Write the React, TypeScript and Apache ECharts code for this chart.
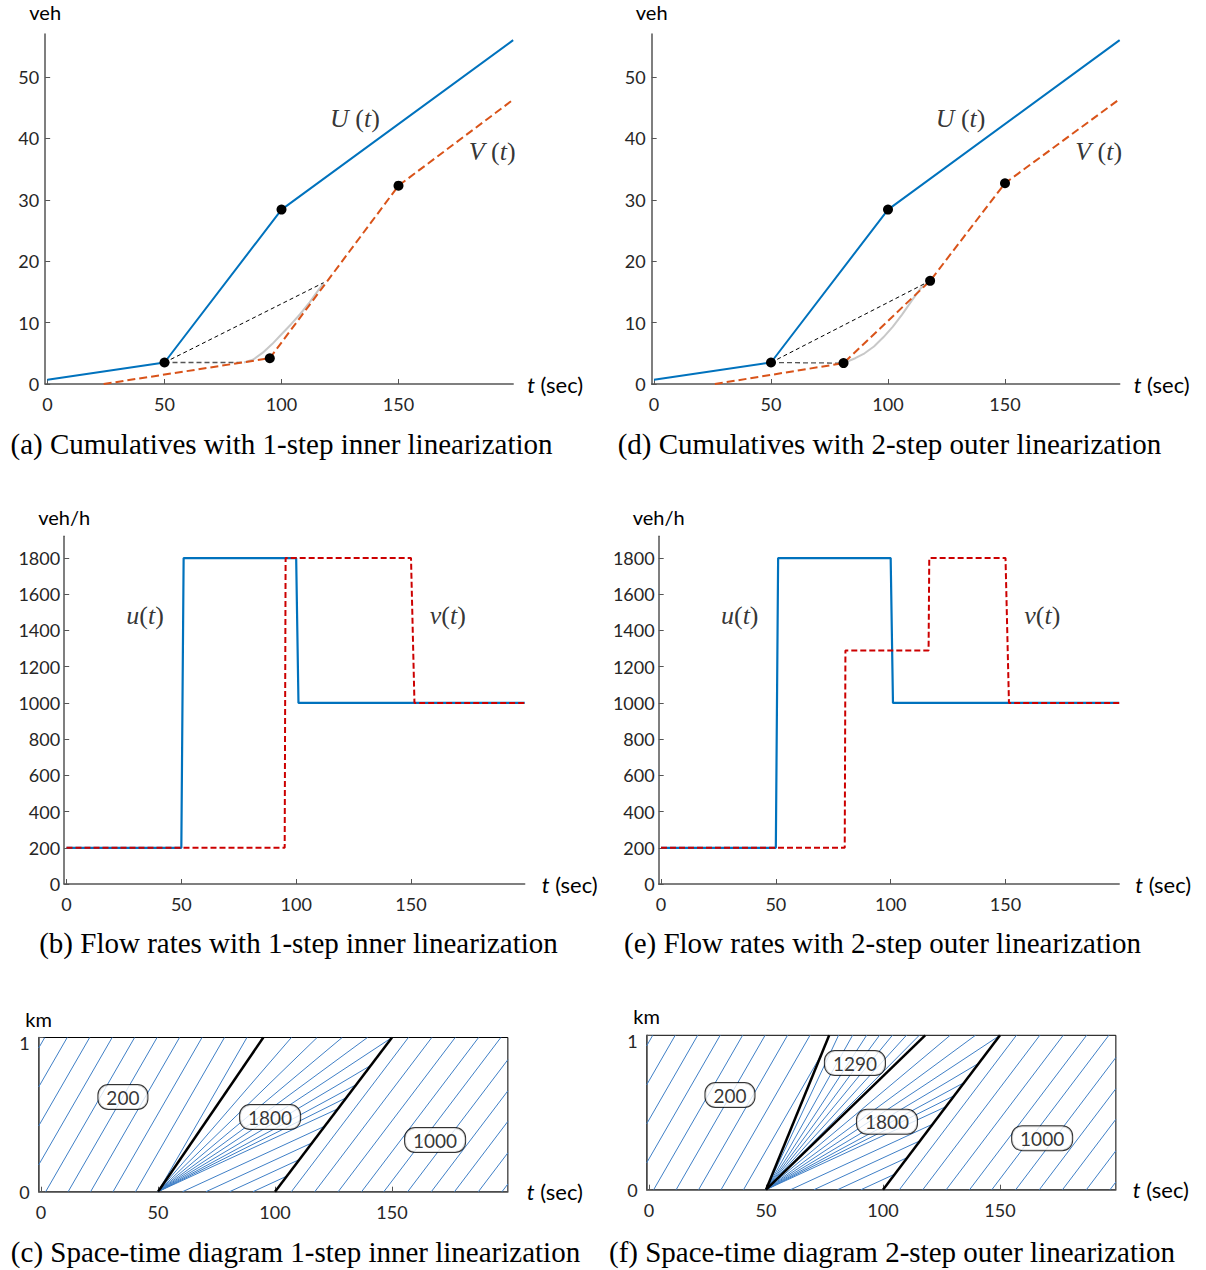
import React, { useEffect, useRef } from "react";
import * as echarts from "echarts";

// ---------------- data ----------------
// cumulative curves (veh) for panels (a) and (d)
const U_T = [0, 50, 100, 199];
const U_N = [0.7, 3.5, 28.4, 56.0];
const V_INNER_T = [24, 95, 150, 199];
const V_INNER_N = [0, 4.2, 32.3, 46.3];
const V_OUTER_T = [26, 81, 118, 150, 199];
const V_OUTER_N = [0, 3.4, 16.8, 32.7, 46.4];
const TRUE_V_A_T = [84, 88, 92, 96, 100, 104, 108, 112, 116, 118];
const TRUE_V_A_N = [3.5, 4.0, 5.1, 6.5, 8.1, 9.7, 11.4, 13.3, 15.4, 16.4];
const TRUE_V_D_T = [81, 86, 90, 94, 98, 102, 106, 110, 114, 118];
const TRUE_V_D_N = [3.4, 4.2, 5.0, 6.1, 7.6, 9.3, 11.3, 13.5, 15.6, 16.8];
const KNOTS_A_T = [50, 95, 100, 150];
const KNOTS_A_N = [3.5, 4.2, 28.4, 32.3];
const KNOTS_D_T = [50, 81, 100, 118, 150];
const KNOTS_D_N = [3.5, 3.4, 28.4, 16.8, 32.7];
const CHORD_H_A_T = [50, 84];
const CHORD_H_A_N = [3.5, 3.5];
const CHORD_S_A_T = [50, 118];
const CHORD_S_A_N = [3.5, 16.5];
const CHORD_H_D_T = [50, 81];
const CHORD_H_D_N = [3.5, 3.4];
const CHORD_S_D_T = [50, 118];
const CHORD_S_D_N = [3.5, 16.8];

// flow rates (veh/h) for panels (b) and (e)
const U_FLOW_T = [0, 50, 51, 100, 101, 199.5];
const U_FLOW_Q = [200, 200, 1800, 1800, 1000, 1000];
const V_FLOW_INNER_T = [0, 95, 95.4, 150, 151.5, 199.5];
const V_FLOW_INNER_Q = [200, 200, 1800, 1800, 1000, 1000];
const V_FLOW_OUTER_T = [0, 80, 80.3, 116.5, 116.8, 150, 151.5, 199.5];
const V_FLOW_OUTER_Q = [200, 200, 1290, 1290, 1800, 1800, 1000, 1000];

// space-time diagrams (c) and (f): start times at x=0 (s) and travel times (s per km)
const C200_T0 = [50, 40.4, 30.8, 21.2, 11.6, 2.0, -7.6, -17.2, -26.8, -36.4];
const F200_T0 = [40.4, 30.8, 21.2, 11.6, 2.0, -7.6, -17.2, -26.8, -36.4];
const TT_200 = 38;
const FAN_ORIGIN = 50;
const FAN_C_TT = [57, 68, 78.7, 89.5, 100, 111, 122, 132, 143];
const FAN_F_1290_TT = [31, 37, 43, 48.5, 54, 60, 65.5];
const FAN_F_1800_TT = [78.7, 89.5, 100, 111, 122, 132, 143];
const T0_1800 = [60.5, 70.5, 80.6, 90.6];
const TT_1800 = 143;
const T0_1000 = [107, 117, 127, 137, 146.5, 156.7, 166.8, 176.7, 186.9, 197];
const TT_1000 = 50;
const WAVES_C_T0 = [50, 100];
const WAVES_C_TT = [45, 50];
const WAVES_F_T0 = [50, 50, 100];
const WAVES_F_TT = [27, 68, 50];

// tick values
const T_TICKS = [0, 50, 100, 150];
const N_TICKS = [0, 10, 20, 30, 40, 50];
const Q_TICKS = [0, 200, 400, 600, 800, 1000, 1200, 1400, 1600, 1800];
const KM_TICKS = [0, 1];

// ---------------- helpers ----------------
const zip = (xs: number[], ys: number[]) => xs.map((x, i) => [x, ys[i]]);
const XMIN = -1;
const XMAX_ST = 199.5;

type Wave = { t0: number; tt: number };
function seg(t0: number, tt: number, stops: Wave[]) {
  let kEnd = 1;
  for (const w of stops) {
    if (tt !== w.tt) {
      const k = (w.t0 - t0) / (tt - w.tt);
      if (k > 1e-6 && k < kEnd) kEnd = k;
    }
  }
  let kStart = 0;
  if (t0 < XMIN) kStart = (XMIN - t0) / tt;
  if (t0 + tt * kEnd > XMAX_ST) kEnd = (XMAX_ST - t0) / tt;
  if (kStart >= kEnd) return null;
  return [
    [t0 + tt * kStart, kStart],
    [t0 + tt * kEnd, kEnd],
  ];
}
const SHOCK: Wave = { t0: 100, tt: 50 };
const WAVE_A: Wave = { t0: 50, tt: 27 };

const segsC = [
  ...C200_T0.map((t0) => seg(t0, TT_200, [])),
  ...FAN_C_TT.map((tt) => seg(FAN_ORIGIN, tt, [SHOCK])),
  ...T0_1800.map((t0) => seg(t0, TT_1800, [SHOCK])),
  ...T0_1000.map((t0) => seg(t0, TT_1000, [])),
].filter(Boolean);
const segsF = [
  ...F200_T0.map((t0) => seg(t0, TT_200, [WAVE_A])),
  ...FAN_F_1290_TT.map((tt) => seg(FAN_ORIGIN, tt, [SHOCK])),
  ...FAN_F_1800_TT.map((tt) => seg(FAN_ORIGIN, tt, [SHOCK])),
  ...T0_1800.map((t0) => seg(t0, TT_1800, [SHOCK])),
  ...T0_1000.map((t0) => seg(t0, TT_1000, [])),
].filter(Boolean);
const wavesC = WAVES_C_T0.map((t0, i) => seg(t0, WAVES_C_TT[i], [])).filter(Boolean);
const wavesF = WAVES_F_T0.map((t0, i) => seg(t0, WAVES_F_TT[i], [])).filter(Boolean);

const SANS = "Lato";
const SERIF = "Liberation Serif";
const AXIS_COLOR = "#555";
const LABEL_COLOR = "#262626";
const BLUE = "#0072BD";
const ORANGE = "#D95319";
const RED = "#CC0000";
const CHAR_BLUE = "#3f7fc6";
const TRANSPARENT = "rgba(0,0,0,0)";

function xAxisOf(gi: number, max: number, gap: number) {
  return {
    type: "value",
    gridIndex: gi,
    min: XMIN,
    max,
    axisLine: { show: true, onZero: false, lineStyle: { color: AXIS_COLOR, width: 1.5 } },
    axisTick: { show: true, inside: true, length: 5, customValues: T_TICKS, lineStyle: { color: AXIS_COLOR } },
    axisLabel: {
      customValues: T_TICKS,
      formatter: (v: number) => String(v),
      fontFamily: SANS,
      fontSize: 18,
      color: LABEL_COLOR,
      margin: 11,
    },
    splitLine: { show: false },
    name: "{i|t} (sec)",
    nameLocation: "end",
    nameGap: gap,
    nameTextStyle: {
      fontFamily: SANS,
      fontSize: 22,
      color: "#000",
      rich: { i: { fontFamily: SANS, fontStyle: "italic", fontSize: 22, color: "#000" } },
    },
  };
}
function yAxisOf(gi: number, max: number, ticks: number[], name: string, gap: number, margin: number, kmAxis = false) {
  return {
    type: "value",
    gridIndex: gi,
    min: 0,
    max,
    axisLine: { show: true, onZero: false, lineStyle: { color: AXIS_COLOR, width: 1.5 } },
    axisTick: { show: true, inside: true, length: 5, customValues: ticks, lineStyle: { color: AXIS_COLOR } },
    axisLabel: {
      customValues: ticks,
      formatter: kmAxis ? (v: number) => (v === 1 ? "{d|1}" : String(v)) : (v: number) => String(v),
      rich: { d: { padding: [11, 0, 0, 0], fontFamily: SANS, fontSize: 18, color: LABEL_COLOR } },
      fontFamily: SANS,
      fontSize: 18,
      color: LABEL_COLOR,
      margin,
    },
    splitLine: { show: false },
    name,
    nameLocation: "end",
    nameGap: gap,
    nameTextStyle: { fontFamily: SANS, fontSize: 20, color: "#000", align: "center" },
  };
}

const mathRich = {
  it: { fontFamily: SERIF, fontStyle: "italic", fontSize: 26, color: "#000" },
  rm: { fontFamily: SERIF, fontSize: 26, color: "#000" },
};
function mathLabels(gi: number, items: { value: number[]; text: string }[]) {
  return {
    type: "scatter",
    xAxisIndex: gi,
    yAxisIndex: gi,
    symbolSize: 1,
    itemStyle: { color: TRANSPARENT },
    silent: true,
    z: 10,
    label: { show: true, position: "inside" },
    data: items.map((it) => ({
      value: it.value,
      label: {
        show: true,
        position: "inside",
        formatter: it.text,
        rich: mathRich,
      },
    })),
  };
}
function boxLabels(gi: number, items: { value: number[]; text: string }[]) {
  return {
    type: "scatter",
    xAxisIndex: gi,
    yAxisIndex: gi,
    symbolSize: 1,
    itemStyle: { color: TRANSPARENT },
    silent: true,
    z: 10,
    label: { show: true, position: "inside" },
    data: items.map((it) => ({
      value: it.value,
      label: {
        show: true,
        position: "inside",
        formatter: it.text,
        fontFamily: SANS,
        fontSize: 19,
        color: "#000",
        backgroundColor: "#fff",
        borderColor: "#000",
        borderWidth: 1,
        borderRadius: 10,
        padding: [3, 8, 2, 8],
      },
    })),
  };
}
function lineSeries(gi: number, data: number[][], color: string, width: number, type: any, z = 2) {
  return {
    type: "line",
    xAxisIndex: gi,
    yAxisIndex: gi,
    data,
    symbol: "none",
    silent: true,
    z,
    lineStyle: { color, width, type },
  };
}
function segSeries(gi: number, segs: any[], color: string, width: number, z = 2) {
  return {
    type: "lines",
    coordinateSystem: "cartesian2d",
    xAxisIndex: gi,
    yAxisIndex: gi,
    polyline: false,
    silent: true,
    z,
    lineStyle: { color, width, opacity: 1, type: "solid" },
    data: segs.map((s) => ({ coords: s })),
  };
}
function knots(gi: number, data: number[][]) {
  return {
    type: "scatter",
    xAxisIndex: gi,
    yAxisIndex: gi,
    data,
    symbolSize: 10,
    silent: true,
    z: 6,
    itemStyle: { color: "#000", opacity: 1 },
  };
}

function caption(text: string, x: number, y: number) {
  return {
    type: "text",
    x,
    y,
    silent: true,
    style: {
      text,
      font: `29px "${SERIF}"`,
      fill: "#000",
      textAlign: "center",
      textVerticalAlign: "middle",
    },
  };
}

function buildOption() {
  const boxGrid = { show: true, borderColor: "#000", borderWidth: 1, backgroundColor: "transparent" };
  return {
    animation: false,
    backgroundColor: "#fff",
    grid: [
      { left: 45.16, top: 34, width: 468, height: 350 }, // a
      { left: 64.2, top: 536.3, width: 460.5, height: 347.7 }, // b
      { left: 38.66, top: 1037.5, width: 469.2, height: 154.2, ...boxGrid }, // c
      { left: 651.66, top: 34, width: 468, height: 350 }, // d
      { left: 658.7, top: 536.3, width: 460.5, height: 347.7 }, // e
      { left: 646.66, top: 1035.3, width: 469.2, height: 154.4, ...boxGrid }, // f
    ],
    xAxis: [
      xAxisOf(0, 199, 14),
      xAxisOf(1, 199.5, 17),
      xAxisOf(2, XMAX_ST, 19),
      xAxisOf(3, 199, 14),
      xAxisOf(4, 199.5, 16),
      xAxisOf(5, XMAX_ST, 17),
    ],
    yAxis: [
      yAxisOf(0, 57, N_TICKS, "veh", 12, 6),
      yAxisOf(1, 1920, Q_TICKS, "veh/h", 9, 4),
      yAxisOf(2, 1, KM_TICKS, "km", 9, 9, true),
      yAxisOf(3, 57, N_TICKS, "veh", 12, 6),
      yAxisOf(4, 1920, Q_TICKS, "veh/h", 9, 4),
      yAxisOf(5, 1, KM_TICKS, "km", 9, 9, true),
    ],
    graphic: [
      caption("(a) Cumulatives with 1-step inner linearization", 281.5, 444),
      caption("(d) Cumulatives with 2-step outer linearization", 889.5, 444),
      caption("(b) Flow rates with 1-step inner linearization", 298.5, 943),
      caption("(e) Flow rates with 2-step outer linearization", 882.5, 943),
      caption("(c) Space-time diagram 1-step inner linearization", 295.5, 1252),
      caption("(f) Space-time diagram 2-step outer linearization", 892, 1252),
    ],
    series: [
      // (a)
      lineSeries(0, zip(TRUE_V_A_T, TRUE_V_A_N), "#c8c8c8", 2, "solid", 1),
      lineSeries(0, zip(CHORD_H_A_T, CHORD_H_A_N), "#555", 1.3, [5, 3], 3),
      lineSeries(0, zip(CHORD_S_A_T, CHORD_S_A_N), "#000", 1, [4, 3], 3),
      lineSeries(0, zip(U_T, U_N), BLUE, 2, "solid", 4),
      lineSeries(0, zip(V_INNER_T, V_INNER_N), ORANGE, 2, [8, 4], 4),
      knots(0, zip(KNOTS_A_T, KNOTS_A_N)),
      mathLabels(0, [
        { value: [131.4, 43.2], text: "{it|U}{rm| (}{it|t}{rm|)}" },
        { value: [190, 37.9], text: "{it|V}{rm| (}{it|t}{rm|)}" },
      ]),
      // (d)
      lineSeries(3, zip(TRUE_V_D_T, TRUE_V_D_N), "#c8c8c8", 2, "solid", 1),
      lineSeries(3, zip(CHORD_H_D_T, CHORD_H_D_N), "#555", 1.3, [5, 3], 3),
      lineSeries(3, zip(CHORD_S_D_T, CHORD_S_D_N), "#000", 1, [4, 3], 3),
      lineSeries(3, zip(U_T, U_N), BLUE, 2, "solid", 4),
      lineSeries(3, zip(V_OUTER_T, V_OUTER_N), ORANGE, 2, [8, 4], 4),
      knots(3, zip(KNOTS_D_T, KNOTS_D_N)),
      mathLabels(3, [
        { value: [131, 43.2], text: "{it|U}{rm| (}{it|t}{rm|)}" },
        { value: [190, 37.9], text: "{it|V}{rm| (}{it|t}{rm|)}" },
      ]),
      // (b)
      lineSeries(1, zip(V_FLOW_INNER_T, V_FLOW_INNER_Q), RED, 2, [6, 3], 3),
      lineSeries(1, zip(U_FLOW_T, U_FLOW_Q), BLUE, 2.2, "solid", 2),
      mathLabels(1, [
        { value: [34.2, 1480], text: "{it|u}{rm|(}{it|t}{rm|)}" },
        { value: [166, 1485], text: "{it|v}{rm|(}{it|t}{rm|)}" },
      ]),
      // (e)
      lineSeries(4, zip(V_FLOW_OUTER_T, V_FLOW_OUTER_Q), RED, 2, [6, 3], 3),
      lineSeries(4, zip(U_FLOW_T, U_FLOW_Q), BLUE, 2.2, "solid", 2),
      mathLabels(4, [
        { value: [34.3, 1480], text: "{it|u}{rm|(}{it|t}{rm|)}" },
        { value: [166, 1485], text: "{it|v}{rm|(}{it|t}{rm|)}" },
      ]),
      // (c)
      segSeries(2, segsC, CHAR_BLUE, 1, 2),
      segSeries(2, wavesC, "#000", 2.5, 4),
      boxLabels(2, [
        { value: [35, 0.614], text: "200" },
        { value: [97.9, 0.484], text: "1800" },
        { value: [168.4, 0.335], text: "1000" },
      ]),
      // (f)
      segSeries(5, segsF, CHAR_BLUE, 1, 2),
      segSeries(5, wavesF, "#000", 2.5, 4),
      boxLabels(5, [
        { value: [34.6, 0.613], text: "200" },
        { value: [88, 0.82], text: "1290" },
        { value: [101.7, 0.44], text: "1800" },
        { value: [168, 0.334], text: "1000" },
      ]),
    ],
  };
}

export default function App() {
  const ref = useRef<HTMLDivElement>(null);
  useEffect(() => {
    const chart = echarts.init(ref.current!, null, { renderer: "svg" });
    chart.setOption(buildOption() as any);
    return () => chart.dispose();
  }, []);
  return (
    <div
      ref={ref}
      style={{ position: "absolute", left: 0, top: 0, width: 1206, height: 1270, background: "#fff" }}
    />
  );
}
